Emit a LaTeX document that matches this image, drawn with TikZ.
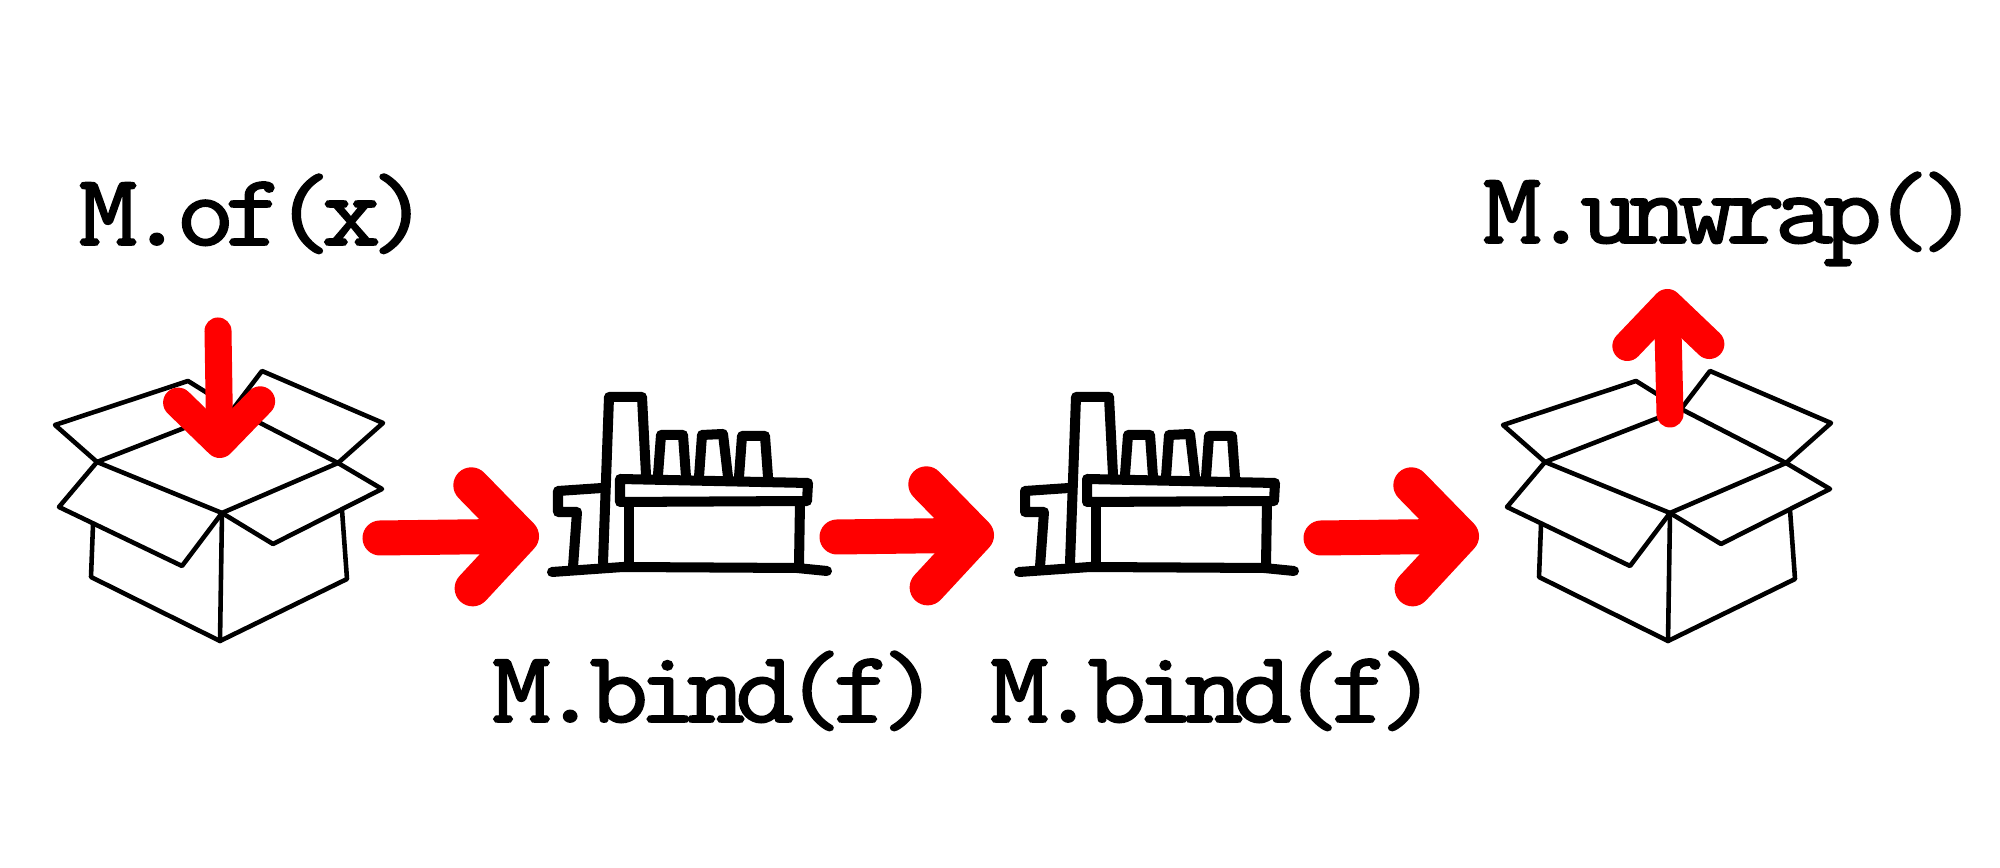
\documentclass[tikz,border=0pt]{standalone}
\usepackage{fontspec}
\setmonofont{Latin Modern Mono}[FakeBold=1.8, FakeStretch=1.12, LetterSpace=-10]
\usetikzlibrary{arrows.meta}

\begin{document}
\begin{tikzpicture}[x=0.01cm, y=-0.01cm,
    label/.style={anchor=base, inner sep=0pt, font=\ttfamily\fontsize{29pt}{29pt}\selectfont},
    outline/.style={draw=black, line width=1.3pt, line join=round, line cap=round},
    sketch/.style={draw=black, line width=2.85pt, line join=round, line cap=round},
    bigflow/.style={red, line width=0.35cm, line cap=round,
      -{Straight Barb[length=0.49cm, width=1.03cm, line width=0.36cm, round]}},
    smallflow/.style={red, line width=0.27cm, line cap=round,
      -{Straight Barb[length=0.41cm, width=0.82cm, line width=0.30cm, round]}},
    pics/crate/.style={code={
      % flaps at the back
      \draw[outline] (97,462) -- (55,425) -- (188,381) -- (233,409) -- (97,462);
      \draw[outline] (233,409) -- (262,371) -- (383,423) -- (338,463) -- cycle;
      % opening and flaps at the front
      \draw[outline] (97,462) -- (222,513) -- (338,463);
      \draw[outline] (97,462) -- (59,507) -- (182,566) -- (222,513);
      \draw[outline] (338,463) -- (382,489) -- (273,544) -- (222,513);
      % body
      \draw[outline] (93,525) -- (91,577) -- (220,641) -- (347,579) -- (342,510);
      \draw[outline] (222,513) -- (220,641);
    }},
    pics/plant/.style={code={
      % ground
      \draw[sketch] (552,572) -- (623,567) -- (797,568) -- (827,571);
      % tall chimney and annex
      \draw[sketch] (603,563) -- (609,397) -- (642,397) -- (646,475);
      \draw[sketch] (602,488) -- (558,491) -- (558,512) -- (577,512) -- (573,567);
      % hall
      \draw[sketch] (620,479) -- (808,483) -- (807,501) -- (620,502) -- cycle;
      \draw[sketch] (629,502) -- (629,563);
      \draw[sketch] (800,502) -- (799,565);
      % small chimneys
      \draw[sketch] (658,475) -- (661,435) -- (683,435) -- (686,477);
      \draw[sketch] (699,477) -- (702,435) -- (723,434) -- (728,477);
      \draw[sketch] (739,477) -- (742,436) -- (765,436) -- (768,477);
    }}
  ]
  \useasboundingbox (0,0) rectangle (2000,868);

  % Boxes and factories
  \pic (boxA) at (0,0) {crate};
  \pic (plantA) at (0,0) {plant};
  \pic (plantB) at (467,0) {plant};
  \pic (boxB) at (1448,0) {crate};

  % Labels
  \node[label] (ofx) at (254,245) {M.of(x)};
  \node[label] (bindA) at (716,722) {M.bind(f)};
  \node[label] (bindB) at (1214,722) {M.bind(f)};
  \node[label] (unwrap) at (1731,243) {M.unwrap()};

  % Free ends of the red arrows
  \coordinate (inTop) at (218,331);
  \coordinate (inEnd) at (220,458);
  \coordinate (outA) at (380,538);
  \coordinate (inPlantA) at (539,536);
  \coordinate (outPlantA) at (837,537);
  \coordinate (inPlantB) at (994,535);
  \coordinate (outPlantB) at (1321,538);
  \coordinate (inBoxB) at (1479,536);
  \coordinate (outBoxB) at (1670,414);
  \coordinate (outEnd) at (1667,289);

  % Red arrows
  \draw[smallflow] (inTop) -- (inEnd);
  \draw[bigflow] (outA) -- (inPlantA);
  \draw[bigflow] (outPlantA) -- (inPlantB);
  \draw[bigflow] (outPlantB) -- (inBoxB);
  \draw[smallflow] (outBoxB) -- (outEnd);
\end{tikzpicture}
\end{document}
